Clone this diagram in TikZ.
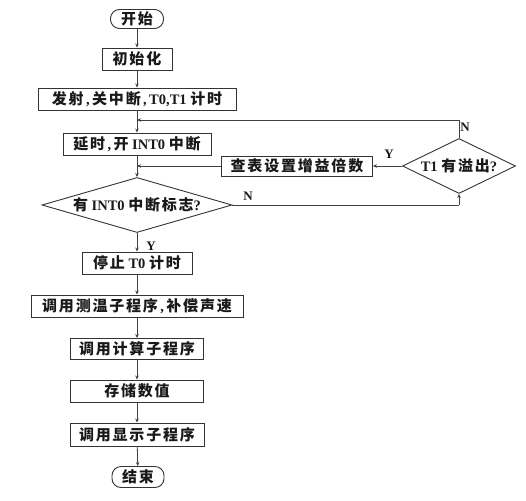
\documentclass[tikz,border=0pt]{standalone}
\usepackage{fontspec}
\setmainfont{Liberation Serif}
\newfontfamily\zhfont{Noto Sans CJK SC}[LetterSpace=12]
\newcommand\zh[1]{{\zhfont\fontsize{15pt}{17pt}\selectfont\bfseries #1}}
\usetikzlibrary{shapes.geometric,arrows.meta}
\begin{document}
\begin{tikzpicture}[x=1pt,y=-1pt,
  every node/.style={font=\fontsize{14.5pt}{16pt}\selectfont\bfseries, text=black!90, inner sep=0pt},
  proc/.style={draw=black!80, line width=0.9pt, minimum height=22pt, align=center},
  term/.style={draw=black!80, line width=0.9pt, rounded corners=9pt, minimum height=19pt},
  dec/.style={draw=black!80, line width=0.9pt, diamond, inner sep=0pt},
  lbl/.style={font=\fontsize{13pt}{15pt}\selectfont\bfseries},
  link/.style={draw=black!75, line width=0.8pt},
  arr/.style={link, -{Stealth[length=4pt,width=3.5pt]}}
]
\useasboundingbox (0,0) rectangle (526,500);

\node[term, minimum width=53pt] (start) at (137,19) {\zh{开始}};
\node[proc, minimum width=70pt] (init) at (137,59) {\zh{初始化}};
\node[proc, minimum width=198pt] (fire) at (137,99) {\zh{发射}\,,\,\zh{关中断}\,,\,T0,T1 \zh{计时}};
\node[proc, minimum width=148pt] (delay) at (137,144) {\zh{延时}\,,\,\zh{开} INT0 \zh{中断}};
\node[proc, minimum width=151pt, minimum height=20pt] (lookup) at (297,166) {\zh{查表设置增益倍数}};
\node[dec, minimum width=113pt, minimum height=55pt, aspect=2.05] (t1) at (459,166) {T1 \zh{有溢出}?};
\node[dec, minimum width=190pt, minimum height=55pt, aspect=3.45] (flag) at (137,205) {\zh{有} INT0 \zh{中断标志}?};
\node[proc, minimum width=110pt] (stop) at (137,263) {\zh{停止} T0 \zh{计时}};
\node[proc, minimum width=212pt] (temp) at (137,306) {\zh{调用测温子程序}\,,\,\zh{补偿声速}};
\node[proc, minimum width=133pt, minimum height=21pt] (calc) at (137,349) {\zh{调用计算子程序}};
\node[proc, minimum width=133pt] (store) at (137,391) {\zh{存储数值}};
\node[proc, minimum width=134pt, minimum height=23pt] (disp) at (137,434.5) {\zh{调用显示子程序}};
\node[term, minimum width=52pt, minimum height=21pt] (end) at (138,477) {\zh{结束}};

\coordinate (j1) at (137,120);
\coordinate (j2) at (137,166);
\coordinate (c1) at (459,205);

\draw[arr] (start) -- (init);
\draw[arr] (init) -- (fire);
\draw[arr] (fire) -- (delay);
\draw[arr] (t1.north) |- (j1);
\draw[arr] (delay) -- (flag);
\draw[arr] (lookup.west) -- (j2);
\draw[arr] (t1.west) -- (lookup.east);
\draw[link] (flag.east) -- (c1);
\draw[arr] (c1) -- (t1.south);
\draw[arr] (flag) -- (stop);
\draw[arr] (stop) -- (temp);
\draw[arr] (temp) -- (calc);
\draw[arr] (calc) -- (store);
\draw[arr] (store) -- (disp);
\draw[arr] (disp) -- (end);

\node[lbl] (nA) at (465,127) {N};
\node[lbl] (yA) at (389,154) {Y};
\node[lbl] (nB) at (248,196) {N};
\node[lbl] (yB) at (151,246) {Y};
\end{tikzpicture}
\end{document}
